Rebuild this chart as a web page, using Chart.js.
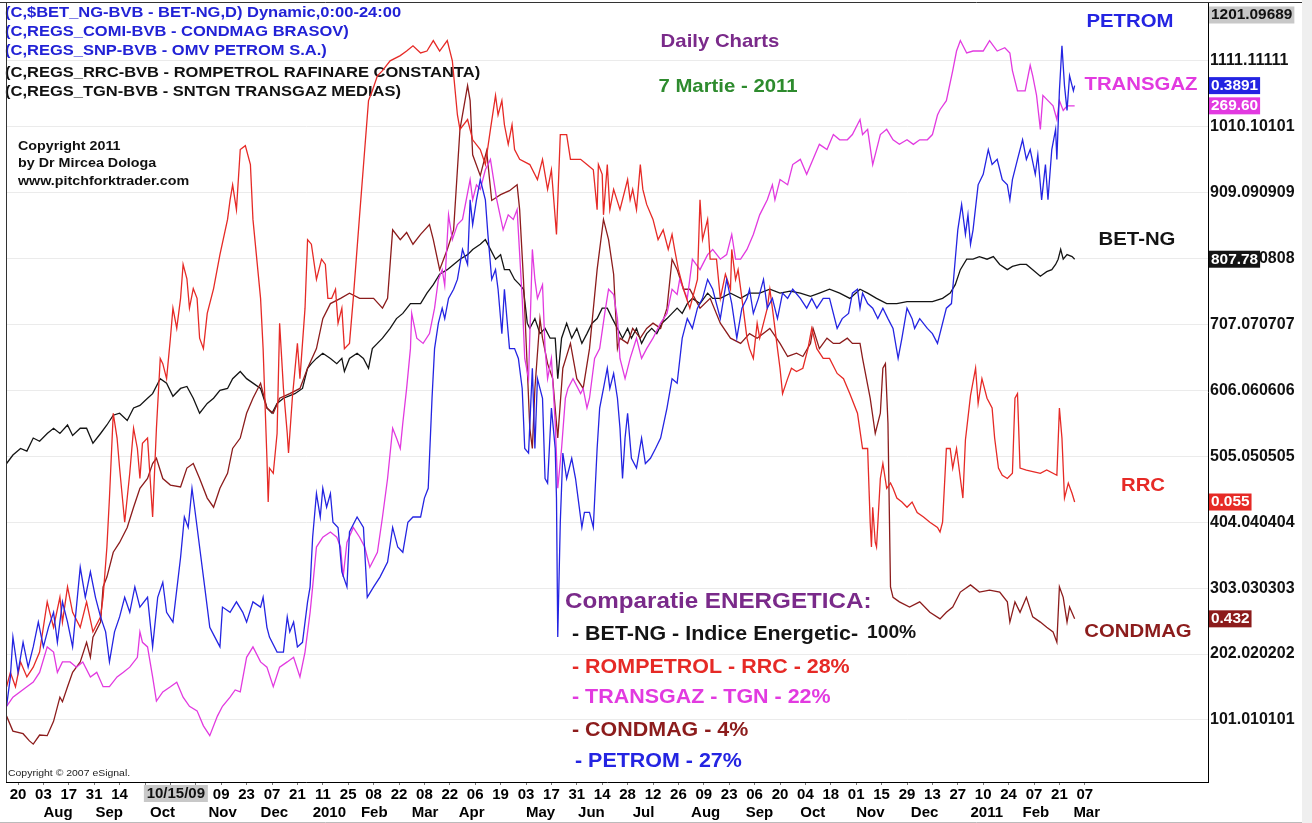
<!DOCTYPE html>
<html>
<head>
<meta charset="utf-8">
<title>Comparatie ENERGETICA - Daily Charts</title>
<script src="https://cdn.jsdelivr.net/npm/chart.js@4.4.1/dist/chart.umd.min.js"></script>
<style>
  html, body { margin: 0; padding: 0; background: #fff; }
  #wrap { width: 1312px; height: 823px; }
</style>
</head>
<body>
<div id="wrap"><canvas id="chart" width="1312" height="823"></canvas></div>
<script>
const FONT = '"Liberation Sans", Arial, Helvetica, sans-serif';
Chart.defaults.font.family = FONT;

// x unit = weeks since Mon 20 Jul 2009, one date tick every 2 weeks
const X_MIN = -0.945, X_MAX = 93.7;
const Y_MIN = 6, Y_MAX = 1201.09689;

const dayLabels = ['20','03','17','31','14','','','','09','23','07','21','11','25','08','22','08','22','06','19',
  '03','17','31','14','28','12','26','09','23','06','20','04','18','01','15','29','13','27','10','24','07','21','07'];
const monthLabels = ['Aug','Sep','Oct','Nov','Dec','2010','Feb','Mar','Apr','May','Jun','Jul','Aug','Sep','Oct','Nov','Dec','2011','Feb','Mar'];
const monthWeeks = [2, 6.1, 10.4, 15, 19.1, 23.2, 27, 31, 34.7, 40, 44.1, 48.4, 53, 57.3, 61.6, 66, 70.3, 75, 79.1, 83.1];
const cursorWeek = 12.43, cursorLabel = '10/15/09';

const yTickLabels = ['101.010101','202.020202','303.030303','404.040404','505.050505','606.060606',
  '707.070707','808.080808','909.090909','1010.10101','1111.11111'];
const yTicks = yTickLabels.map(Number);
const yTopLabel = '1201.09689';

// BET-NG (index)
const betWeeks = [-0.9,-0.4,0.2,0.7,1.2,1.7,2.3,2.8,3.3,3.9, 4.3,4.9,5.4,5.9,6.5,7.0,7.5,8.0,8.6,9.1,
  9.6,10.2,10.6,11.2,11.7,12.2,12.8,13.3,13.8,14.3, 14.9,15.4,15.9,16.5,16.9,17.5,18.0,19.1,19.6,20.0,
  20.4,20.9,21.8,22.4,22.8,23.1,23.5,24.0,24.6,25.1, 25.5,25.7,26.1,26.7,27.2,27.6,27.9,28.3,28.7,29.3,
  29.8,30.3,30.9,31.7,32.2,32.7,33.2,33.8,34.3,34.8, 35.4,35.8,36.4,36.8,37.2,37.6,38.0,38.3,38.7,39.1,
  39.5,39.8,40.1,40.3,40.7,41.1,41.5,41.9,42.3,42.5, 42.8,43.2,43.6,44.0,44.4,44.8,45.2,45.6,46.0,46.4,
  46.8,47.2,47.6,48.0,48.3,48.7,49.1,49.5,49.9,50.3, 50.7,51.1,51.5,51.9,52.3,52.7,53.1,53.7,54.3,54.7,
  55.3,56.1,56.9,57.6,58.4,59.2,60.0,60.8,61.6,62.4, 63.1,63.9,64.7,65.5,66.3,66.9,67.6,68.4,69.2,70.0,
  71.0,72.0,72.8,73.4,73.8,74.2,74.7,75.2,75.7,76.3, 76.8,77.3,77.9,78.3,78.9,79.4,79.9,80.5,81.0,81.4,
  81.7,81.9,82.1,82.3,82.6,83.0,83.2];
const betValues = [494,507,517,513,533,528,540,548,540,553, 537,548,548,525,540,553,568,571,560,579,
  583,594,601,624,617,597,609,612,594,571, 586,594,606,609,624,635,624,609,579,571,
  586,594,601,609,640,647,655,663,655,647, 655,635,655,663,655,640,670,678,686,701,
  716,724,739,739,755,768,784,791,799,807, 814,822,830,837,822,807,814,791,791,776,
  768,761,709,701,716,693,701,686,686,624, 686,709,686,701,678,693,709,716,732,732,
  716,701,686,701,686,701,678,693,701,693, 709,716,724,732,724,739,747,739,755,747,
  747,755,747,755,755,761,755,758,755,750, 755,761,755,747,761,755,747,739,739,742,
  742,742,747,755,768,791,807,807,811,807, 811,799,791,796,799,799,791,781,788,791,
  799,807,822,807,814,811,807];

// ROMPETROL RRC
const rrcWeeks = [-0.9,-0.6,-0.2,0.2,0.7,1.2,1.7,2.3,2.5,2.8, 3.3,3.5,3.9,4.3,4.9,5.4,5.9,6.5,6.7,7.0,
  7.2,7.5,7.8,8.0,8.4,8.8,9.1,9.4,9.6,9.8, 10.2,10.6,10.9,11.2,11.4,11.7,12.0,12.2,12.5,12.8,
  13.0,13.3,13.5,13.8,14.1,14.3,14.6,14.9,15.4,15.9, 16.5,16.7,16.9,17.2,17.5,17.9,18.3,18.5,19.1,19.3,
  19.6,19.7,19.8,20.1,20.4,20.6,20.9,21.2,21.3,21.6, 22.0,22.2,22.6,22.8,23.1,23.5,23.9,24.2,24.4,24.7,
  25.0,25.2,25.5,25.7,26.1,26.4,26.9,27.3,27.6,27.9, 28.3,28.7,29.3,30.1,30.6,31.1,31.7,32.2,32.7,33.2,
  33.8,34.2,34.6,34.8,35.4,35.8,36.4,36.8,37.2,37.6, 37.8,38.1,38.3,38.6,38.9,39.1,39.5,40.3,40.9,41.3,
  41.7,42.0,42.4,42.7,43.2,43.5,44.3,44.8,45.3,45.6, 45.7,46.0,46.1,46.4,46.6,46.9,47.4,48.0,48.2,48.4,
  48.7,49.0,49.2,49.5,50.0,50.4,50.8,51.2,51.5,51.7, 52.0,52.4,52.9,53.5,53.7,53.9,54.3,54.5,55.0,55.3,
  55.7,56.1,56.2,56.5,56.7,57.0,57.4,57.6,57.9,58.2, 58.4,59.0,59.2,59.4,59.8,60.0,60.2,60.6,60.9,61.3,
  61.8,62.2,62.5,62.9,63.4,63.9,64.5,65.0,65.5,66.1, 66.5,66.9,67.1,67.2,67.3,67.5,67.6,67.9,68.1,68.4,
  68.7,68.9,69.2,69.6,70.0,70.4,70.8,71.3,71.8,72.4, 72.6,72.8,73.1,73.4,73.6,73.9,74.2,74.4,74.6,75.0,
  75.4,75.6,75.9,76.3,76.7,76.9,77.2,77.5,77.9,78.3, 78.5,78.7,78.9,79.4,80.5,81.0,81.8,82.0,82.2,82.4,
  82.7,83.0,83.2];
const rrcValues = [152,174,152,190,167,182,205,282,266,243, 289,251,305,266,243,282,236,259,289,366,
  441,571,533,487,404,479,548,517,471,525, 533,412,548,655,647,624,686,732,701,747,
  799,777,732,762,747,686,670,724,762,814, 868,898,921,883,975,981,952,868,747,670,
  502,435,487,479,540,709,609,540,510,594, 678,624,732,837,830,776,807,799,747,747,
  761,709,732,670,678,747,875,975,1050,1065, 1088,1096,1111,1119,1126,1134,1123,1126,1142,1126,
  1142,1111,1028,1006,1021,990,975,952,1006,1058, 1028,1050,1013,983,1013,975,960,952,929,960,
  914,944,845,998,998,960,960,952,944,883, 952,937,875,952,883,914,883,929,898,914,
  883,952,914,891,868,837,852,822,845,822, 791,761,732,776,898,837,868,807,807,747,
  784,761,822,776,791,747,686,670,655,709, 686,732,761,732,670,640,601,624,640,635,
  640,670,701,670,655,655,632,624,601,571, 517,517,404,366,427,373,366,471,494,456,
  464,456,441,435,427,435,419,412,404,396, 389,404,517,517,487,517,471,441,530,598,
  640,586,624,594,579,533,487,476,471,479, 594,601,487,484,479,484,476,579,533,441,
  464,448,435];

// TRANSGAZ TGN
const tgnWeeks = [-0.9,-0.4,0.7,1.2,1.7,2.3,2.8,3.1,3.5,4.1, 4.6,5.1,5.7,6.2,6.7,7.2,7.8,8.3,8.8,9.4,
  9.6,9.8,10.2,10.6,10.9,11.4,12.0,12.5,13.0,13.5, 14.1,14.6,15.1,15.7,16.1,16.7,17.1,17.5,18.0,18.5,
  19.1,19.6,20.1,20.6,21.2,21.7,22.2,22.6,23.0,23.2, 23.5,24.0,24.6,25.1,25.4,25.6,25.9,26.4,26.9,27.3,
  27.7,28.3,28.7,29.1,29.5,29.8,30.1,30.3,30.6,30.9, 31.0,31.4,31.9,32.4,32.8,33.1,33.4,33.6,33.9,34.2,
  34.6,35.0,35.6,35.8,36.1,36.4,36.8,37.2,37.7,38.2, 38.6,39.0,39.3,39.7,39.9,40.2,40.5,40.7,40.9,41.3,
  41.5,41.7,42.0,42.3,42.5,42.8,43.1,43.3,43.7,44.3, 44.5,44.8,45.0,45.4,45.8,46.2,46.5,46.9,47.2,47.4,
  47.8,48.2,48.7,49.1,49.5,50.0,50.6,51.1,51.5,51.9, 52.1,52.7,53.1,53.7,54.3,54.7,55.3,55.8,56.2,56.5,
  56.9,57.4,57.9,58.4,59.0,59.4,59.6,60.0,60.6,61.0, 61.6,62.1,62.6,63.1,63.7,64.2,64.7,65.3,65.7,66.3,
  66.5,66.9,67.3,67.9,68.4,68.9,69.4,70.0,70.5,71.0, 71.6,72.0,72.4,72.6,73.1,73.6,73.9,74.2,74.7,75.2,
  76.0,76.5,77.1,77.7,78.1,78.3,78.7,79.3,79.7,79.9, 80.2,80.5,80.7,81.1,81.5,81.8,82.0,82.3,82.6,83.2];
const tgnValues = [122,136,152,159,174,213,205,174,190,190, 182,190,167,174,152,152,167,174,182,197,
  236,220,213,167,130,144,152,159,136,122, 115,92,77,107,122,136,147,144,197,213,
  190,182,152,182,190,197,167,205,266,305, 366,381,389,381,366,320,373,396,381,366,
  335,358,412,471,548,533,517,556,609,670, 724,686,678,693,732,776,791,767,875,837,
  860,868,929,898,921,914,944,960,898,852, 875,868,883,747,655,624,822,776,747,768,
  670,624,655,556,456,517,594,609,624,601, 609,579,594,655,670,724,761,753,716,655,
  624,655,686,655,670,686,709,724,761,753, 776,747,807,791,814,822,807,814,845,807,
  807,822,845,875,898,921,898,929,921,952, 960,937,960,983,975,998,990,990,998,1021,
  998,1006,952,998,1006,990,983,990,983,990, 990,998,1028,1036,1050,1096,1126,1142,1123,1126,
  1126,1142,1126,1131,1123,1096,1065,1065,1104,1088, 1058,1006,1058,1050,1042,1021,1050,1035,1042,1042];

// CONDMAG
const comiWeeks = [-0.9,-0.4,0.4,0.9,1.2,1.7,2.3,2.8,3.3,3.5, 3.9,4.3,4.9,5.4,5.7,5.9,6.5,6.7,7.0,7.5,
  8.0,8.6,9.1,9.6,10.2,10.6,10.9,11.4,12.0,12.8, 13.3,13.8,14.3,14.9,15.4,15.9,16.5,16.9,17.5,18.0,
  18.5,19.1,19.6,20.1,20.6,21.4,22.2,22.8,23.5,24.0, 24.6,25.4,26.1,26.9,28.0,28.7,29.1,29.5,30.1,30.6,
  31.1,31.7,32.4,32.7,33.2,33.8,34.3,34.8,35.4,35.6, 35.8,36.4,36.9,37.3,38.0,38.7,39.3,39.5,39.8,40.1,
  40.3,40.5,40.7,41.1,41.3,41.7,42.1,42.5,42.9,43.5, 44.0,44.5,45.0,45.6,46.1,46.5,46.9,47.2,47.4,48.0,
  48.4,49.0,49.5,50.0,50.6,51.1,51.5,51.9,52.4,52.9, 53.7,54.5,55.3,56.1,56.9,57.6,58.2,59.2,60.0,60.6,
  61.3,61.8,62.4,62.6,63.1,63.7,64.2,64.7,65.3,65.7, 66.3,66.5,67.1,67.5,67.9,68.1,68.3,68.5,68.7,68.9,
  69.4,70.2,71.0,71.8,72.6,73.1,73.6,74.2,75.0,75.7, 76.5,77.3,77.9,78.1,78.5,78.9,79.4,79.9,80.5,81.0,
  81.5,81.8,82.0,82.3,82.6,82.8,83.2];
const comiValues = [107,84,80,69,64,78,77,99,136,129, 152,174,190,220,197,228,251,305,320,358,
  373,396,427,456,471,494,502,471,461,458, 487,494,471,441,427,456,479,517,533,571,
  594,617,579,571,594,601,609,640,670,716, 739,747,755,747,747,732,747,852,837,848,
  830,845,860,837,791,822,852,1006,1073,1050, 967,935,973,897,906,912,921,883,776,640,
  548,517,609,716,686,647,624,533,640,678, 624,609,670,791,868,837,784,670,686,678,
  701,686,701,709,701,732,807,791,761,761, 732,747,709,686,678,693,686,701,678,658,
  663,658,678,701,670,686,678,678,686,678, 678,655,594,540,571,640,647,556,305,289,
  282,274,282,266,256,266,274,297,308,297, 300,297,282,251,282,266,289,259,251,243,
  236,220,305,289,251,274,256];

// OMV PETROM
const snpWeeks = [-0.9,-0.6,-0.4,0.0,0.4,0.8,1.2,1.6,2.0,2.4, 2.8,3.1,3.5,3.9,4.3,4.9,5.3,5.7,6.1,6.5,
  6.9,7.2,7.6,8.0,8.4,8.8,9.2,9.6,10.2,10.6, 11.0,11.4,11.7,12.2,12.8,13.1,13.4,13.7,13.9,14.3,
  14.7,15.1,15.5,15.9,16.1,16.7,17.2,17.7,18.0,18.5, 19.1,19.3,19.6,19.8,20.4,20.9,21.2,21.4,21.7,22.0,
  22.4,22.8,23.0,23.2,23.5,23.8,24.0,24.3,24.6,24.8, 25.2,25.5,25.9,26.1,26.7,27.2,27.5,28.0,28.5,29.1,
  29.5,29.9,30.3,30.7,31.1,31.7,32.0,32.3,32.6,32.8, 33.1,33.4,33.6,33.9,34.3,34.6,35.0,35.4,35.6,35.8,
  36.1,36.4,36.8,37.0,37.3,37.6,37.8,38.1,38.3,38.7, 39.1,39.4,39.7,39.9,40.2,40.5,40.7,40.9,41.3,41.5,
  41.7,42.0,42.3,42.4,42.5,42.7,42.9,43.2,43.6,43.9, 44.1,44.4,44.6,45.0,45.3,45.6,45.8,46.1,46.4,46.6,
  46.9,47.2,47.4,47.6,47.8,48.0,48.3,48.7,49.1,49.4, 49.8,50.2,50.6,51.1,51.5,51.9,52.3,52.7,53.1,53.5,
  53.9,54.3,54.7,55.3,55.8,56.2,56.6,57.0,57.4,57.6, 57.9,58.3,58.7,59.0,59.4,59.8,60.2,60.6,61.0,61.6,
  62.1,62.5,62.9,63.4,63.9,64.5,64.9,65.4,65.7,66.1, 66.3,66.5,66.9,67.3,67.7,68.1,68.5,68.9,69.3,69.6,
  70.0,70.4,70.6,71.0,71.6,72.0,72.4,73.1,73.5,73.8, 74.0,74.3,74.6,74.8,75.0,75.2,75.6,76.0,76.4,76.7,
  77.1,77.5,77.9,78.1,78.3,78.7,79.1,79.4,79.7,80.1, 80.3,80.6,80.9,81.1,81.4,81.7,81.8,82.0,82.2,82.4,
  82.6,82.8,83.1,83.2];
const snpValues = [122,167,228,174,220,182,213,251,213,243, 266,220,282,251,213,335,289,328,289,259,
  236,190,236,259,289,266,305,274,289,213, 289,312,266,251,350,412,396,456,427,366,
  305,243,228,213,274,266,282,266,251,282, 274,289,243,228,205,205,259,236,251,213,
  220,282,305,381,448,412,456,427,448,404, 396,328,305,389,412,396,289,305,320,343,
  396,366,358,404,412,412,441,456,594,670, 709,732,716,747,761,776,822,799,898,860,
  898,929,898,845,776,791,761,693,761,670, 670,655,609,517,510,640,517,624,594,471,
  464,579,517,441,228,404,510,471,502,471, 441,396,419,419,396,517,579,609,640,609,
  632,594,548,471,533,571,502,487,533,494, 502,517,533,579,624,617,686,716,701,732,
  747,776,761,716,776,739,686,732,747,761, 724,747,776,732,747,716,755,747,761,747,
  732,747,732,747,747,701,716,724,755,761, 732,755,739,732,716,732,716,701,655,686,
  732,716,701,716,701,693,678,732,739,807, 852,891,845,875,830,852,921,937,975,952,
  960,929,921,898,929,960,990,960,975,937, 967,898,952,898,975,1006,960,1065,1134,1073,
  1035,1088,1065,1073];

const pts = (xs, ys) => xs.map((x, i) => ({ x, y: ys[i] }));

// first dataset is drawn on top
const series = [
  { label: 'PETROM',   weeks: snpWeeks,  values: snpValues,  color: '#2424e2', price: '0.3891' },
  { label: 'RRC',      weeks: rrcWeeks,  values: rrcValues,  color: '#e62a26', price: '0.055' },
  { label: 'TRANSGAZ', weeks: tgnWeeks,  values: tgnValues,  color: '#e23ae0', price: '269.60' },
  { label: 'CONDMAG',  weeks: comiWeeks, values: comiValues, color: '#8c1c1c', price: '0.432' },
  { label: 'BET-NG',   weeks: betWeeks,  values: betValues,  color: '#141414', price: '807.78' }
];

function txt(ctx, s, x, y, size, color, align = 'left', weight = 'bold', sx = 1.1) {
  ctx.save();
  ctx.font = weight + ' ' + size + 'px ' + FONT;
  ctx.fillStyle = color;
  ctx.textAlign = align;
  ctx.textBaseline = 'middle';
  ctx.translate(x, y);
  ctx.scale(sx, 1);
  ctx.fillText(s, 0, 0);
  ctx.restore();
}

function badge(ctx, s, x, y, bg, fg) {
  ctx.save();
  ctx.font = 'bold 14px ' + FONT;
  const w = ctx.measureText(s).width * 1.1 + 4;
  ctx.fillStyle = bg;
  ctx.fillRect(x, y - 8.5, w, 17);
  ctx.restore();
  txt(ctx, s, x + 2, y + 0.5, 14, fg);
}

const headerLines = [
  ['(C,$BET_NG-BVB - BET-NG,D) Dynamic,0:00-24:00', '#2222d6'],
  ['(C,REGS_COMI-BVB - CONDMAG BRASOV)', '#2222d6'],
  ['(C,REGS_SNP-BVB - OMV PETROM S.A.)', '#2222d6'],
  ['(C,REGS_RRC-BVB - ROMPETROL RAFINARE CONSTANTA)', '#111'],
  ['(C,REGS_TGN-BVB - SNTGN TRANSGAZ MEDIAS)', '#111']
];

const overlay = {
  id: 'overlay',
  beforeDraw(chart) {
    const ctx = chart.ctx;
    ctx.save();
    ctx.fillStyle = '#fff';
    ctx.fillRect(0, 0, chart.width, chart.height);
    ctx.fillStyle = '#efefef';
    ctx.fillRect(1302, 0, 10, chart.height);
    ctx.restore();
  },
  beforeDatasetsDraw(chart) {
    const ctx = chart.ctx;
    [13, 32, 51, 73, 92].forEach((y, i) => txt(ctx, headerLines[i][0], 5, y, 15, headerLines[i][1]));
    txt(ctx, 'Copyright 2011', 18, 146, 13, '#111');
    txt(ctx, 'by Dr Mircea Dologa', 18, 163, 13, '#111');
    txt(ctx, 'www.pitchforktrader.com', 18, 181, 13, '#111');
    txt(ctx, 'Daily Charts', 720, 42, 18.5, '#7a2a8a', 'center');
    txt(ctx, '7 Martie - 2011', 728, 87, 18.5, '#2e8b2e', 'center');
    txt(ctx, 'PETROM', 1130, 22, 18.5, '#2424e2', 'center');
    txt(ctx, 'TRANSGAZ', 1141, 85, 18.5, '#e23ae0', 'center');
    txt(ctx, 'BET-NG', 1137, 240, 18.5, '#141414', 'center');
    txt(ctx, 'RRC', 1143, 486, 18.5, '#e62a26', 'center');
    txt(ctx, 'CONDMAG', 1138, 632, 18.5, '#8c1c1c', 'center');
    txt(ctx, 'Comparatie ENERGETICA:', 565, 602, 22, '#7a2a8a');
    txt(ctx, '- BET-NG - Indice Energetic-', 572, 635, 19.5, '#141414');
    txt(ctx, '100%', 867, 633, 17.5, '#141414');
    txt(ctx, '- ROMPETROL - RRC - 28%', 572, 668, 19.5, '#e62a26');
    txt(ctx, '- TRANSGAZ - TGN - 22%', 572, 698, 19.5, '#e23ae0');
    txt(ctx, '- CONDMAG - 4%', 572, 731, 19.5, '#8c1c1c');
    txt(ctx, '- PETROM - 27%', 575, 762, 19.5, '#2424e2');
    txt(ctx, 'Copyright \u00a9 2007 eSignal.', 8, 773, 9.5, '#222', 'left', 'normal');
  },
  afterDraw(chart) {
    const ctx = chart.ctx;
    const a = chart.chartArea;
    const ys = chart.scales.y;
    ctx.save();
    ctx.strokeStyle = '#333';
    ctx.lineWidth = 1;
    ctx.beginPath();
    ctx.moveTo(0, a.top + 0.5); ctx.lineTo(1302, a.top + 0.5);
    ctx.moveTo(a.left + 0.5, a.top); ctx.lineTo(a.left + 0.5, a.bottom);
    ctx.stroke();
    ctx.strokeStyle = '#bbb';
    ctx.beginPath();
    ctx.moveTo(0, 822.5); ctx.lineTo(1302, 822.5);
    ctx.stroke();
    ctx.restore();

    badge(ctx, yTopLabel, a.right + 1, 15, '#c8c8c8', '#111');
    series.forEach(s => {
      const y = ys.getPixelForValue(s.values[s.values.length - 1]);
      badge(ctx, s.price, a.right + 1, y, s.color, '#fff');
    });

    const cx = chart.scales.x.getPixelForValue(cursorWeek);
    ctx.save();
    ctx.fillStyle = '#c8c8c8';
    ctx.fillRect(cx - 32, a.bottom + 3, 64, 17);
    ctx.restore();
    txt(ctx, cursorLabel, cx, a.bottom + 12, 15, '#111', 'center', 'bold', 1);
  }
};

new Chart(document.getElementById('chart'), {
  type: 'line',
  data: {
    datasets: series.map(s => ({
      label: s.label,
      data: pts(s.weeks, s.values),
      borderColor: s.color,
      backgroundColor: s.color,
      borderWidth: 1.3,
      pointRadius: 0,
      tension: 0,
      fill: false
    }))
  },
  options: {
    responsive: false,
    devicePixelRatio: 1,
    animation: false,
    layout: { padding: { left: 6, top: 2, right: 0, bottom: 0 } },
    plugins: { legend: { display: false }, tooltip: { enabled: false } },
    scales: {
      x: {
        type: 'linear', position: 'bottom', min: X_MIN, max: X_MAX, weight: 0,
        afterBuildTicks: s => { s.ticks = dayLabels.map((_, i) => ({ value: 2 * i })); },
        afterFit: s => { s.height = 20; s.paddingLeft = 0; s.paddingRight = 0; },
        grid: { drawOnChartArea: false, drawTicks: true, tickLength: 3, color: '#777' },
        border: { color: '#000' },
        ticks: {
          autoSkip: false, maxRotation: 0, padding: 1, color: '#000',
          font: { size: 15, weight: 'bold' },
          callback: (v, i) => dayLabels[i]
        }
      },
      xm: {
        type: 'linear', position: 'bottom', min: X_MIN, max: X_MAX, weight: 1,
        afterBuildTicks: s => { s.ticks = monthWeeks.map(v => ({ value: v })); },
        afterFit: s => { s.height = 21; s.paddingLeft = 0; s.paddingRight = 0; },
        grid: { display: false, drawTicks: false },
        border: { display: false },
        ticks: {
          autoSkip: false, maxRotation: 0, align: 'start', padding: 2, color: '#000',
          font: { size: 15, weight: 'bold' },
          callback: (v, i) => monthLabels[i]
        }
      },
      y: {
        position: 'right', min: Y_MIN, max: Y_MAX,
        afterBuildTicks: s => { s.ticks = yTicks.map(v => ({ value: v })); },
        afterFit: s => { s.width = 104; s.paddingTop = 0; s.paddingBottom = 0; },
        grid: { color: '#ebebeb', drawTicks: false },
        border: { color: '#000' },
        ticks: {
          padding: 2, color: '#111',
          font: { size: 16, weight: 'bold' },
          callback: (v, i) => yTickLabels[i]
        }
      }
    }
  },
  plugins: [overlay]
});
</script>
</body>
</html>
